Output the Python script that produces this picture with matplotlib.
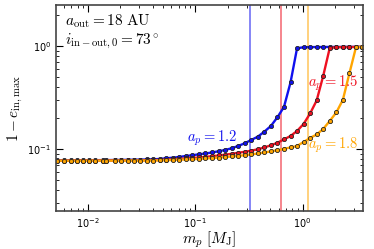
import matplotlib
matplotlib.use("Agg")
import matplotlib.pyplot as plt

plt.rcParams['mathtext.fontset'] = 'cm'

# planet mass grid [M_J]
m_p = [0.00518, 0.00598, 0.00690, 0.00785, 0.00893, 0.01015, 0.01169, 0.01388,
       0.01470, 0.01795, 0.0204, 0.02356, 0.02679, 0.03046, 0.03516,
       0.04051, 0.04659, 0.05359, 0.06167, 0.07097, 0.08166, 0.09397, 0.1081,
       0.1244, 0.1431, 0.1647, 0.1895, 0.2181, 0.2508, 0.2886, 0.3322, 0.3822,
       0.4397, 0.5060, 0.5822, 0.6699, 0.7709, 0.8869, 1.0205, 1.174, 1.351,
       1.554, 1.788, 2.058, 2.368, 2.725, 3.135, 3.55]

y_a12 = [0.0775, 0.0775, 0.0776, 0.0776, 0.0777, 0.0778, 0.0779, 0.0780,
         0.0780, 0.0782, 0.0783, 0.0785, 0.0786, 0.0788, 0.0791,
         0.0794, 0.0800, 0.0812, 0.0823, 0.0836, 0.0855, 0.0869, 0.0888,
         0.0904, 0.0925, 0.0950, 0.0978, 0.1016, 0.1069, 0.1136, 0.1223, 0.1317,
         0.1472, 0.1672, 0.2032, 0.2557, 0.4420, 0.950, 0.972, 0.975, 0.976,
         0.977, 0.978, 0.978, 0.979, 0.979, 0.980, 0.980]

y_a15 = [0.0771, 0.0771, 0.0771, 0.0772, 0.0772, 0.0772, 0.0773, 0.0773,
         0.0773, 0.0774, 0.0775, 0.0775, 0.0776, 0.0777, 0.0778,
         0.0779, 0.0782, 0.0787, 0.0794, 0.0801, 0.0809, 0.0818, 0.0827,
         0.0838, 0.0851, 0.0865, 0.0880, 0.0898, 0.0918, 0.0939, 0.0963, 0.0993,
         0.1034, 0.1086, 0.1149, 0.1237, 0.1337, 0.1495, 0.1749, 0.2212, 0.2958,
         0.5113, 0.956, 0.972, 0.975, 0.977, 0.978, 0.979]

y_a18 = [0.0770, 0.0770, 0.0770, 0.0770, 0.0770, 0.0771, 0.0771, 0.0771,
         0.0771, 0.0771, 0.0771, 0.0772, 0.0772, 0.0772, 0.0772,
         0.0773, 0.0775, 0.0779, 0.0782, 0.0786, 0.0791, 0.0796, 0.0801,
         0.0809, 0.0816, 0.0825, 0.0834, 0.0846, 0.0857, 0.0871, 0.0886, 0.0904,
         0.0925, 0.0948, 0.0973, 0.1005, 0.1034, 0.1069, 0.1169, 0.1279, 0.1383,
         0.1563, 0.1870, 0.2261, 0.2990, 0.5408, 0.967, 0.982]

# critical planet masses (vertical lines)
m_crit = [0.32, 0.63, 1.11]
labels = [r"$a_p=1.2$", r"$a_p=1.5$", r"$a_p=1.8$"]
colors = ["#1010ee", "#ee1020", "#ffa500"]
label_pos = [(0.083, 0.128), (1.11, 0.437), (1.11, 0.109)]

fig = plt.figure(figsize=(3.74, 2.49), dpi=100)
ax = fig.add_axes([0.1497, 0.1526, 0.8209, 0.8274])

for y, c in zip([y_a12, y_a15, y_a18], colors):
    ax.plot(m_p, y, '-', color=c, lw=1.7, marker='o', ms=3.0,
            mfc=c, mec='#222222', mew=0.6)

for xv, c in zip(m_crit, colors):
    ax.axvline(xv, color=c, lw=1.3, alpha=0.55, zorder=0)

for (tx, ty), lab, c in zip(label_pos, labels, colors):
    ax.text(tx, ty, lab, color=c, fontsize=10.5, va='center', ha='left')

ax.text(0.029, 0.922, r"$a_{\rm out}=18\ {\rm AU}$", transform=ax.transAxes,
        fontsize=11, va='center', ha='left')
ax.text(0.029, 0.825, r"$i_{\rm in-out,0}=73^\circ$", transform=ax.transAxes,
        fontsize=11, va='center', ha='left')

ax.set_xscale('log')
ax.set_yscale('log')
ax.set_xlim(0.00504, 3.65)
ax.set_ylim(0.025, 2.5)

ax.set_xlabel(r"$m_p\ [M_{\rm J}]$", fontsize=11, labelpad=0)
ax.set_ylabel(r"$1-e_{\rm in,max}$", fontsize=11, labelpad=2)

ax.tick_params(which='both', direction='in', top=True, right=True, labelsize=7)
ax.tick_params(which='major', length=5, width=0.8)
ax.tick_params(which='minor', length=2.5, width=0.6)
for s in ax.spines.values():
    s.set_linewidth(1.2)
    s.set_color('#444444')

fig.savefig("out.png", dpi=100)
